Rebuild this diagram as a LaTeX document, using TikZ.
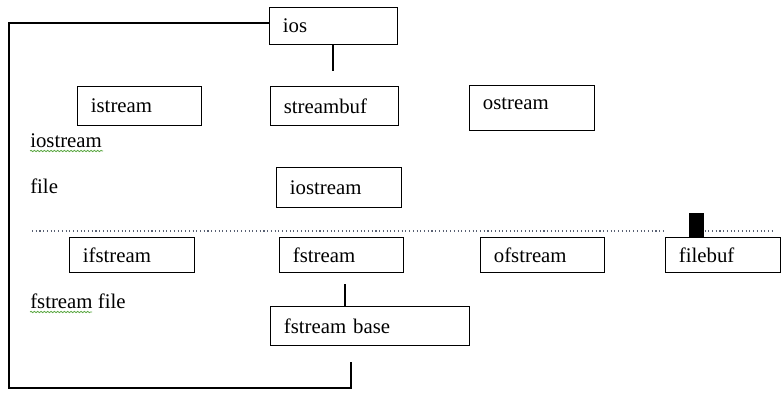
\documentclass[tikz,border=0pt]{standalone}
\usepackage{fontspec}
\setmainfont{Liberation Serif}
\usetikzlibrary{decorations.pathmorphing}
\definecolor{SpellClr}{rgb}{0.35,0.65,0.25}
\definecolor{DotClr}{rgb}{0.35,0.38,0.45}

\tikzset{
  box/.style={draw,line width=0.8pt,anchor=north west,align=left,
    inner xsep=10pt,inner ysep=0pt,font=\fontsize{15.6}{18}\selectfont},
  lbl/.style={anchor=base west,inner sep=0pt,font=\fontsize{15.6}{18}\selectfont},
  squiggle/.style={draw=SpellClr,line width=0.6pt,
    decorate,decoration={snake,amplitude=0.5pt,segment length=2.5pt}}
}

\begin{document}
\begin{tikzpicture}[x=0.75pt,y=-0.75pt]
\useasboundingbox (0,0) rectangle (781,399);

% upper part
\node[box,text width=76pt,minimum height=27.75pt] (ios) at (269,7) {ios};
\node[box,text width=73pt,minimum height=29.25pt] (istream) at (77,86) {istream};
\node[box,text width=76pt,minimum height=29.25pt] (streambuf) at (270,86) {streambuf};
\node[box,text width=73.75pt,minimum height=33.75pt,text depth=6.5pt] (ostream) at (469,85) {ostream};
\node[box,text width=73.75pt,minimum height=30pt] (iostream) at (276,167) {iostream};

\node[lbl] (iolbl) at (30,147) {iostream};
\node[lbl] (filelbl) at (30,193) {file};

\coordinate (iosend) at (333,71);
\draw[line width=0.8pt] (iosend |- ios.south) -- (iosend);

% separator
\node[fill,anchor=north west,inner sep=0pt,minimum width=11.25pt,
  minimum height=18.75pt] (blk) at (689,213) {};
\coordinate (dotL) at (32,231);
\coordinate (dotM) at (663,231);
\coordinate (dotR) at (773,231);
\draw[DotClr,dotted,line width=0.8pt] (dotL) -- (dotM);
\draw[DotClr,dotted,line width=0.8pt] (blk.east |- dotR) -- (dotR);

% lower part
\node[box,text width=73.75pt,minimum height=26.25pt] (ifstream) at (69,237) {ifstream};
\node[box,text width=73pt,minimum height=26.25pt] (fstream) at (279,237) {fstream};
\node[box,text width=73pt,minimum height=26.25pt] (ofstream) at (480,237) {ofstream};
\node[box,text width=66.25pt,minimum height=26.25pt] (filebuf) at (665,237) {filebuf};
\node[box,text width=129.25pt,minimum height=29.25pt] (fbase) at (270,306) {fstream base};

\node[lbl] (fslbl) at (30,308) {fstream file};

\coordinate (fsend) at (345,284);
\draw[line width=0.8pt] (fsend) -- (fsend |- fbase.north);

% spelling marks
\draw[squiggle] (iolbl.base west) ++(0,4) -- ++(73,0);
\draw[squiggle] (fslbl.base west) ++(0,4) -- ++(62,0);

% outer bracket
\coordinate (brT) at (9,23);
\coordinate (brL) at (9,388);
\coordinate (brend) at (351,362);
\draw[line width=1.3pt] (brT -| ios.west) -- (brT) -- (brL) -| (brend);

\end{tikzpicture}
\end{document}
